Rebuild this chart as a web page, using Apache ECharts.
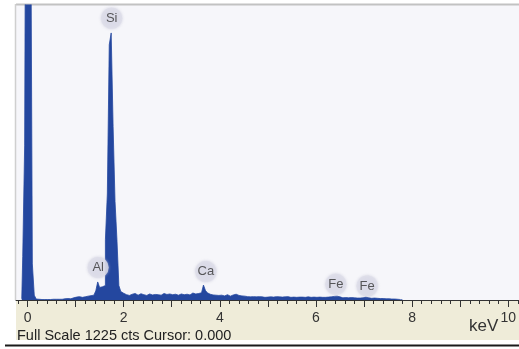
<!DOCTYPE html>
<html>
<head>
<meta charset="utf-8">
<script src="https://cdn.jsdelivr.net/npm/echarts@6/dist/echarts.min.js"></script>
<style>
  html, body { margin: 0; padding: 0; background: #fff; }
  #spectrum { width: 519px; height: 349px; }
</style>
</head>
<body>
<div id="spectrum"></div>
<script>
// EDS spectrum, counts per 0.04 keV channel starting at -0.12 keV
var chStart = -0.12;
var chWidth = 0.04;
var counts = [
  5, 180, 640,                                                   // -0.12 .. -0.04
  3000, 3000, 2000, 150, 20,                                     // 0.00 .. 0.16 (noise peak)
  4, 3, 2, 3, 2, 2, 3, 2, 3, 4, 3, 3, 4, 3, 5, 4, 6, 5, 7, 9,    // 0.20 .. 0.96
  12, 10, 14, 11, 15, 13, 16, 12, 18, 20,                        // 1.00 .. 1.36
  26, 38, 75, 52, 55, 60, 250, 440, 1060, 1109, 720, 410, 250, 60, 35, 28,   // 1.40 .. 2.00 (Al, Si)
  22, 25, 19, 24, 21, 27, 20, 23, 26, 22, 24, 19, 25, 28, 21, 23, 26, 22, 20, 24, 27, 23, 21, 25,   // 2.04 .. 2.96
  22, 26, 24, 20, 23, 25, 22, 27, 24, 21, 26, 29, 25, 23, 27, 30, 36, 62, 40, 30, 24, 21, 23, 20, 19, // 3.00 .. 3.96 (Ca)
  18, 20, 17, 19, 22, 16, 18, 21, 24, 22, 19, 17, 15, 16, 14, 15, 13, 14, 12, 13, 14, 12, 13, 11, 12, // 4.00 .. 4.96
  12, 13, 11, 12, 14, 12, 13, 12, 11, 13, 14, 12, 11, 12, 13, 11, 12, 14, 12, 11, 12, 13, 11, 10, 12, // 5.00 .. 5.96
  11, 10, 12, 11, 10, 11, 12, 11, 13, 15, 18, 16, 13, 10, 9, 10, 8, 9, 10, 8, 9, 8, 7, 8, 9,         // 6.00 .. 6.96 (Fe)
  10, 12, 9, 8, 7, 8, 6, 7, 6, 5, 6, 5, 4, 5, 4, 3, 4, 3, 2, 2, 1                                    // 7.00 .. 7.80
];

// element markers
var elements = ['Si', 'Al', 'Ca', 'Fe', 'Fe'];
var elementKeV = [1.75, 1.47, 3.71, 6.415, 7.066];
var elementCts = [1170, 135, 118, 65, 58];

// axis ticks
var fullScale = 1225;
var minorTicks = [];
for (var t = -2; t <= 102; t += 2) minorTicks.push(t / 10);
var majorTicks = [0, 1, 2, 3, 4, 5, 6, 7, 8, 9, 10];
var labelTicks = [0, 2, 4, 6, 8, 10];

var spectrum = counts.map(function (c, i) {
    return [+(chStart + i * chWidth).toFixed(2), c];
});
var markers = elements.map(function (name, i) {
    return { name: name, value: [elementKeV[i], elementCts[i]] };
});

var chart = echarts.init(document.getElementById('spectrum'));
chart.setOption({
    animation: false,
    textStyle: { fontFamily: 'Liberation Sans, Arial, sans-serif' },
    grid: { left: 16, right: 0, top: 5, bottom: 49 },
    graphic: [
        { type: 'rect', z: -10, shape: { x: 16, y: 5, width: 503, height: 295 }, style: { fill: '#f6f6fa' } },
        { type: 'rect', z: -10, shape: { x: 16, y: 301, width: 503, height: 39 }, style: { fill: '#efecd9' } },
        { type: 'line', z: -9, shape: { x1: 16, y1: 4.5, x2: 519, y2: 4.5 }, style: { stroke: '#c2c2c2', lineWidth: 2 } },
        { type: 'line', z: -9, shape: { x1: 15.5, y1: 4, x2: 15.5, y2: 300 }, style: { stroke: '#cfcfcf', lineWidth: 1.5 } },
        { type: 'line', z: -9, shape: { x1: 5, y1: 345.5, x2: 519, y2: 345.5 }, style: { stroke: '#1a1a1a', lineWidth: 2 } },
        { type: 'text', left: 17, top: 328, style: { text: 'Full Scale ' + fullScale + ' cts Cursor: 0.000', fontSize: 14.5, fill: '#222', fontFamily: 'Liberation Sans, Arial, sans-serif' } },
        { type: 'text', left: 469, top: 318, style: { text: 'keV', fontSize: 17, fill: '#333', fontFamily: 'Liberation Sans, Arial, sans-serif' } }
    ],
    xAxis: [
        {
            type: 'value', min: -0.24, max: 10.22, position: 'bottom',
            splitLine: { show: false },
            axisLine: { lineStyle: { color: '#333', width: 1 } },
            axisTick: { customValues: majorTicks, length: 7, lineStyle: { color: '#333' } },
            axisLabel: { customValues: labelTicks, margin: 11, fontSize: 14, color: '#333' }
        },
        {
            type: 'value', min: -0.24, max: 10.22, position: 'bottom',
            splitLine: { show: false },
            axisLine: { show: false },
            axisTick: { customValues: minorTicks, length: 4, lineStyle: { color: '#333' } },
            axisLabel: { show: false }
        }
    ],
    yAxis: {
        type: 'value', min: 0, max: fullScale, show: false,
        splitLine: { show: false }
    },
    series: [
        {
            type: 'line',
            step: 'middle',
            data: spectrum,
            symbol: 'none',
            lineStyle: { color: '#24479f', width: 0.8 },
            areaStyle: { color: '#24479f', opacity: 1 },
            z: 2
        },
        {
            type: 'scatter',
            data: markers,
            symbol: 'circle',
            symbolSize: 21,
            itemStyle: { color: '#dfdeea', shadowBlur: 3, shadowColor: 'rgba(190,190,210,0.9)' },
            label: { show: true, position: 'inside', formatter: '{b}', fontSize: 13, color: '#333' },
            z: 3
        }
    ]
});
</script>
</body>
</html>
